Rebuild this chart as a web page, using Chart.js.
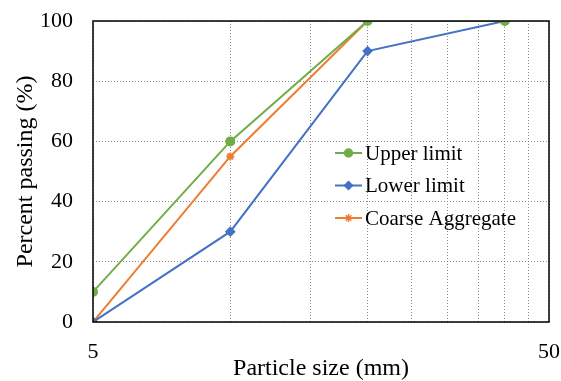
<!DOCTYPE html>
<html>
<head>
<meta charset="utf-8">
<script src="https://cdn.jsdelivr.net/npm/chart.js@4/dist/chart.umd.min.js"></script>
<style>
  html, body { margin: 0; padding: 0; background: #fff; }
  #wrap { width: 561px; height: 381px; }
</style>
</head>
<body>
<div id="wrap"><canvas id="chart" width="561" height="381"></canvas></div>
<script>
// sieve sizes (mm) and percent passing
var sizesLimits = [5, 10, 20, 40];
var upperLimit = [10, 60, 100, 100];
var lowerLimit = [0, 30, 90, 100];
var sizesCoarse = [5, 10, 20];
var coarseAgg = [0, 55, 100];

var xTicks = [5, 10, 15, 20, 25, 30, 35, 40, 45, 50];
var xLabels = [5, 50];
var yTicks = [0, 20, 40, 60, 80, 100];

function pts(xs, ys) {
  return xs.map(function(x, i) { return { x: x, y: ys[i] }; });
}

var SERIF = "'Liberation Serif', 'Times New Roman', serif";

// legend drawn inside the plot area, like the excel one
var boxLegend = {
  id: 'boxLegend',
  afterDraw: function(chart) {
    var ctx = chart.ctx;
    var a = chart.chartArea;
    // frame round the plot
    ctx.save();
    ctx.strokeStyle = '#000';
    ctx.lineWidth = 1.5;
    ctx.strokeRect(a.left, a.top, a.right - a.left, a.bottom - a.top);
    ctx.restore();

    var x0 = 335, y0 = 153, step = 32.5;
    chart.data.datasets.forEach(function(ds, i) {
      var y = y0 + i * step;
      ctx.save();
      ctx.strokeStyle = ds.borderColor;
      ctx.lineWidth = 2;
      ctx.beginPath();
      ctx.moveTo(x0, y);
      ctx.lineTo(x0 + 27, y);
      ctx.stroke();
      if (Chart.helpers && Chart.helpers.drawPoint) {
        ctx.fillStyle = ds.pointBackgroundColor;
        ctx.strokeStyle = ds.pointBorderColor;
        ctx.lineWidth = 1.5;
        Chart.helpers.drawPoint(ctx, { pointStyle: ds.pointStyle, radius: ds.pointRadius, rotation: 0, borderWidth: 1.5 }, x0 + 13.5, y);
      }
      ctx.fillStyle = '#000';
      ctx.font = '21px ' + SERIF;
      ctx.textAlign = 'left';
      ctx.textBaseline = 'middle';
      ctx.fillText(ds.label, x0 + 30, y + 1);
      ctx.restore();
    });
  }
};

var ctx = document.getElementById('chart');
var chart = new Chart(ctx, {
  type: 'line',
  data: {
    datasets: [{
      label: 'Upper limit',
      data: pts(sizesLimits, upperLimit),
      borderColor: '#70AD47',
      backgroundColor: '#70AD47',
      pointBackgroundColor: '#70AD47',
      pointBorderColor: '#70AD47',
      pointStyle: 'circle',
      pointRadius: 4,
      borderWidth: 2
    }, {
      label: 'Lower limit',
      data: pts(sizesLimits, lowerLimit),
      borderColor: '#4472C4',
      backgroundColor: '#4472C4',
      pointBackgroundColor: '#4472C4',
      pointBorderColor: '#4472C4',
      pointStyle: 'rectRot',
      pointRadius: 4,
      borderWidth: 2
    }, {
      label: 'Coarse Aggregate',
      data: pts(sizesCoarse, coarseAgg),
      borderColor: '#ED7D31',
      backgroundColor: '#ED7D31',
      pointBackgroundColor: '#ED7D31',
      pointBorderColor: '#ED7D31',
      pointStyle: 'star',
      pointRadius: 4,
      borderWidth: 2
    }]
  },
  options: {
    responsive: false,
    animation: false,
    layout: { padding: { top: 21, right: 12, left: 0, bottom: 0 } },
    plugins: {
      legend: { display: false },
      tooltip: { enabled: false }
    },
    scales: {
      x: {
        type: 'logarithmic',
        min: 5,
        max: 50,
        afterBuildTicks: function(scale) {
          scale.ticks = xTicks.map(function(v) { return { value: v }; });
        },
        afterFit: function(scale) {
          scale.height = 59;
          scale.paddingLeft = 0;
          scale.paddingRight = 0;
        },
        ticks: {
          autoSkip: false,
          maxRotation: 0,
          padding: 17,
          color: '#000',
          font: { family: SERIF, size: 22 },
          callback: function(v) { return xLabels.indexOf(v) >= 0 ? String(v) : ''; }
        },
        grid: { color: '#8c8c8c', lineWidth: 1, drawTicks: false },
        border: { display: false, dash: [1, 2] },
        title: {
          display: true,
          text: 'Particle size (mm)',
          color: '#000',
          font: { family: SERIF, size: 24, lineHeight: 1 },
          padding: { top: 0, bottom: 0 }
        }
      },
      y: {
        min: 0,
        max: 100,
        afterBuildTicks: function(scale) {
          scale.ticks = yTicks.map(function(v) { return { value: v }; });
        },
        afterFit: function(scale) {
          scale.width = 93;
          scale.paddingTop = 0;
          scale.paddingBottom = 0;
        },
        ticks: {
          padding: 20,
          color: '#000',
          font: { family: SERIF, size: 22 }
        },
        grid: { color: '#8c8c8c', lineWidth: 1, drawTicks: false },
        border: { display: false, dash: [1, 2] },
        title: {
          display: true,
          text: 'Percent passing (%)',
          color: '#000',
          font: { family: SERIF, size: 24, lineHeight: 1 },
          padding: { top: 14, bottom: 0 }
        }
      }
    }
  },
  plugins: [boxLegend]
});
</script>
</body>
</html>
